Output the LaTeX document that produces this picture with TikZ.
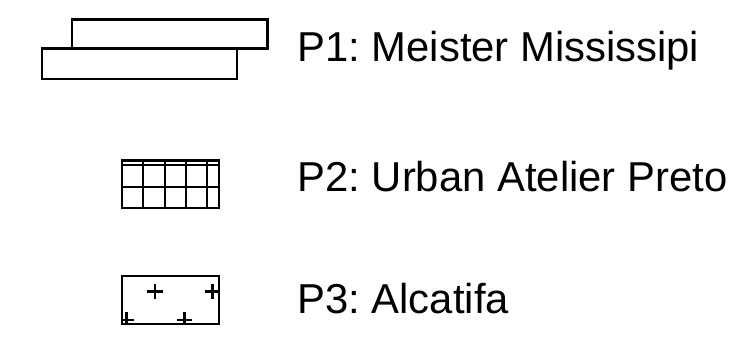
\documentclass[tikz,border=0pt]{standalone}
\usepackage{fontspec}
\setmainfont{Liberation Sans}
\frenchspacing
\usetikzlibrary{positioning}

\begin{document}
\begin{tikzpicture}[
    x=1pt, y=-1pt,
    swatch/.style={draw=black, line width=2.3pt},
    hatch/.style={draw=black, line width=2.1pt},
    legendlbl/.style={anchor=base west, inner sep=0pt,
                  font=\fontsize{41.8}{50}\selectfont},
  ]
    \useasboundingbox (0,0) rectangle (742,350);

    % ── P1: two staggered planks ─────────────────
    \draw[swatch] (72,19.5) rectangle (267.5,48.5);
    \draw[swatch] (42,48.5) rectangle (237,79);
    \node[legendlbl] (p1) at (297.3,61.7) {P1: Meister Mississipi};

    % ── P2: tiled grid ───────────────────────────
    \draw[swatch] (122.3,160.5) rectangle (219.3,208.3);
    \foreach \gy in {165,187.3}
      \draw[hatch] (122.3,\gy) -- (219.3,\gy);
    \foreach \gx in {143.4,164.8,186.1,207.4}
      \draw[hatch] (\gx,160.5) -- (\gx,208.3);
    \node[legendlbl] (p2) at (297.3,191.7) {P2: Urban Atelier Preto};

    % ── P3: carpet with crosses ──────────────────
    \draw[swatch] (122,275.7) rectangle (219.3,323.8);
    \begin{scope}
      \clip (122,275.7) rectangle (219.3,323.8);
      \foreach \cx/\cy in {155/291.5, 212.5/291.5, 126.5/320, 184.5/320}
        \draw[hatch] (\cx-7.8,\cy) -- (\cx+7.8,\cy) (\cx,\cy-7.8) -- (\cx,\cy+7.8);
    \end{scope}
    \node[legendlbl] (p3) at (297.3,313.5) {P3: Alcatifa};
  \end{tikzpicture}
\end{document}
